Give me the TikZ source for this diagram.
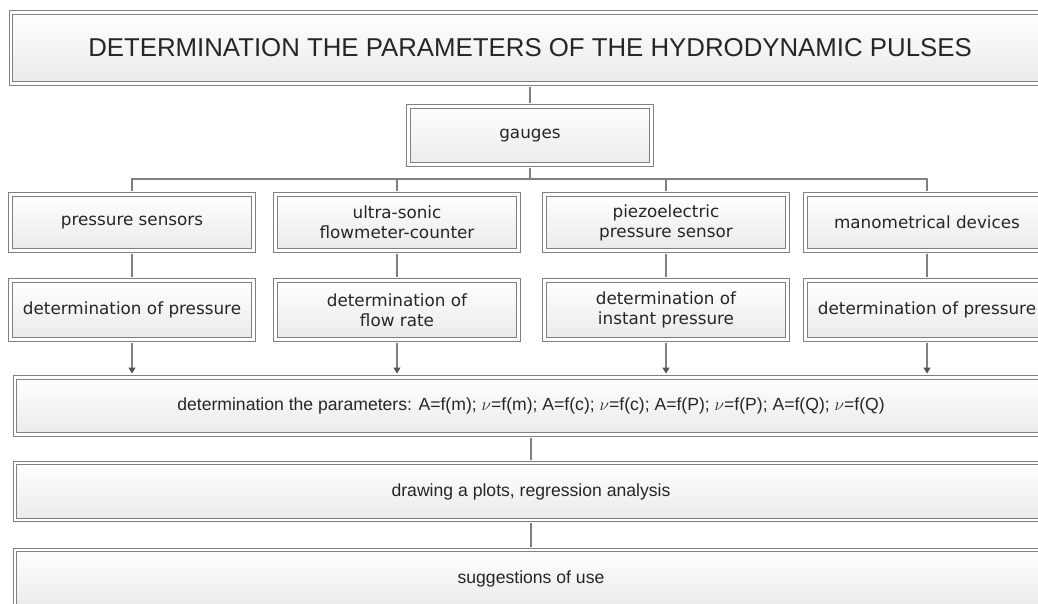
\documentclass[tikz,border=0pt]{standalone}
\usepackage{fontspec}
\setmainfont{Liberation Sans}
\newfontfamily\gaugefont{DejaVu Sans}
\usepackage{xcolor}
\definecolor{Col1}{RGB}{128,128,128}
\definecolor{Col2}{RGB}{234,234,234}
\definecolor{Col3}{RGB}{85,85,85}
\usepackage{tikz}
\usetikzlibrary{arrows.meta}
\tikzstyle{Box}=[rectangle,draw=Col1,double=white,double distance=2.5pt,
line width=.9pt,top color=white,bottom color=Col2,inner sep=2pt,
align=center,text=black!85]
\tikzstyle{Title}=[Box,minimum width=1038pt,minimum height=71pt,
font=\fontsize{25.8}{30}\selectfont]
\tikzstyle{Gauge}=[Box,minimum width=243pt,font=\fontsize{16.8}{20}\gaugefont]
\tikzstyle{Wide}=[Box,minimum width=1032pt,minimum height=57pt,
font=\fontsize{17.6}{20}\selectfont]
\tikzstyle{Edge}=[draw=Col1,line width=1.2pt,shorten <=2.6pt,shorten >=2.6pt]
\tikzstyle{Arrow}=[Edge,-{Triangle[width=7pt,length=6pt,color=Col3]},shorten >=3.5pt]

\begin{document}
\begin{tikzpicture}[x=1pt,y=-1pt]
        \useasboundingbox(0,0)rectangle(1038,603);
        \clip(0,0)rectangle(1038,603);
        \node[Title](title)at(530,48){DETERMINATION THE PARAMETERS OF THE HYDRODYNAMIC PULSES};
        \node[Gauge,minimum height=58pt](gauges)at(530,135.5){gauges};
        \coordinate(bus)at(530,179);
        % sensors
        \node[Gauge,minimum height=56pt](s1)at(132,222.5){pressure sensors};
        \node[Gauge,minimum height=56pt](s2)at(397,222.5){ultra-sonic\\flowmeter-counter};
        \node[Gauge,minimum height=56pt](s3)at(666,222.5){piezoelectric\\pressure sensor};
        \node[Gauge,minimum height=56pt](s4)at(927,222.5){manometrical devices};
        % what they give
        \node[Gauge,minimum height=59pt](d1)at(132,310){determination of pressure};
        \node[Gauge,minimum height=59pt](d2)at(397,310){determination of\\flow rate};
        \node[Gauge,minimum height=59pt](d3)at(666,310){determination of\\instant pressure};
        \node[Gauge,minimum height=59pt](d4)at(927,310){determination of pressure};
        % results
        \node[Wide](res)at(531,406){determination the parameters: A=f(m); $\nu$=f(m); A=f(c); $\nu$=f(c); A=f(P); $\nu$=f(P); A=f(Q); $\nu$=f(Q)};
        \node[Wide](plots)at(531,491.5){drawing a plots, regression analysis};
        \node[Wide](use)at(531,578.5){suggestions of use};
        \draw[Edge](title)--(gauges);
        \draw[Edge,shorten >=0pt](gauges)--(bus);
        \draw[Edge](s1.north)--(s1.north|-bus)--(s4.north|-bus)--(s4.north);
        \draw[Edge,shorten <=0pt](s2.north|-bus)--(s2);
        \draw[Edge,shorten <=0pt](s3.north|-bus)--(s3);
        \draw[Edge](s1)--(d1);
        \draw[Edge](s2)--(d2);
        \draw[Edge](s3)--(d3);
        \draw[Edge](s4)--(d4);
        \draw[Arrow](d1)--(d1|-res.north);
        \draw[Arrow](d2)--(d2|-res.north);
        \draw[Arrow](d3)--(d3|-res.north);
        \draw[Arrow](d4)--(d4|-res.north);
        \draw[Edge](res)--(plots);
        \draw[Edge](plots)--(use);
    \end{tikzpicture}
\end{document}
